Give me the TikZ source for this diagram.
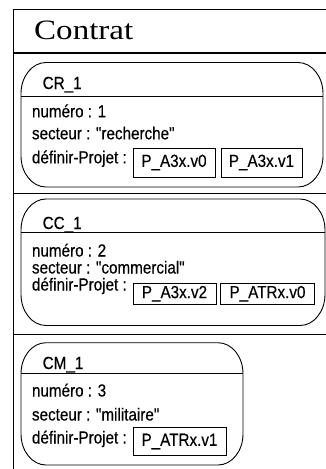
\documentclass[tikz,border=0pt]{standalone}
\usepackage{fontspec}
\newfontfamily\uifont[FakeStretch=0.87,FakeBold=0.4]{Liberation Sans}
\newfontfamily\titlefont[FakeStretch=1.18]{Liberation Serif}
\newcommand\objbox[4]{%
  \draw[objline] (#1+25,#2) -- (#3-25,#2)
    .. controls (#3-11.2,#2) and (#3,#2+13.9) .. (#3,#2+31)
    -- (#3,#4-31)
    .. controls (#3,#4-13.9) and (#3-11.2,#4) .. (#3-25,#4)
    -- (#1+25,#4)
    .. controls (#1+11.2,#4) and (#1,#4-13.9) .. (#1,#4-31)
    -- (#1,#2+31)
    .. controls (#1,#2+13.9) and (#1+11.2,#2) .. cycle;}
\tikzset{
  objline/.style={draw=black, line width=0.9pt},
  frameline/.style={draw=black, line width=1pt},
  headline/.style={draw=black, line width=1.6pt},
  txt/.style={anchor=base west, inner sep=0pt, font=\uifont\fontsize{17.5}{19}\selectfont},
  lbl/.style={txt},
  pbox/.style={draw=black, line width=0.9pt, inner sep=0pt, font=\uifont\fontsize{17.5}{19}\selectfont},
}
\begin{document}
\begin{tikzpicture}[x=1pt,y=-1pt]
\useasboundingbox (0,0) rectangle (326,469);
% outer frame
\draw[frameline] (326,9) -- (13,9) -- (13,469);
\draw[headline] (13,53) -- (326,53);
\draw[frameline] (13,193) -- (326,193);
\draw[frameline] (13,334) -- (326,334);
\node[anchor=base west, inner sep=0pt, font=\titlefont\fontsize{28}{30}\selectfont] (title) at (34,39) {Contrat};

% CR_1
\objbox{21}{62.5}{323}{187}
\draw[objline] (21,96.5) -- (323,96.5);
\node[lbl] (cr) at (42.5,89) {CR\_1};
\node[txt] (cr1) at (31.8,117.3) {numéro : 1};
\node[txt] (cr2) at (31.8,139.3) {secteur : "recherche"};
\node[txt] (cr3) at (31.8,163.3) {définir-Projet :};
\node[pbox, minimum width=82pt, minimum height=29pt] (crv0) at (174,162.5) {P\_A3x.v0};
\node[pbox, minimum width=81pt, minimum height=29pt] (crv1) at (261.5,162.5) {P\_A3x.v1};

% CC_1
\objbox{21}{199}{325}{325.5}
\draw[objline] (21,232.7) -- (325,232.7);
\node[lbl] (cc) at (42.5,229) {CC\_1};
\node[txt] (cc1) at (31.8,256.5) {numéro : 2};
\node[txt] (cc2) at (31.8,273.5) {secteur : "commercial"};
\node[txt] (cc3) at (31.8,290.5) {définir-Projet :};
\node[pbox, minimum width=83pt, minimum height=20.5pt] (ccv2) at (174.5,293.75) {P\_A3x.v2};
\node[pbox, minimum width=94pt, minimum height=20.5pt] (ccv0) at (267.5,293.75) {P\_ATRx.v0};

% CM_1
\objbox{21}{342.7}{243}{465}
\draw[objline] (21,373) -- (243,373);
\node[lbl] (cm) at (42.5,369) {CM\_1};
\node[txt] (cm1) at (31.8,396.5) {numéro : 3};
\node[txt] (cm2) at (31.8,420.5) {secteur : "militaire"};
\node[txt] (cm3) at (31.8,443.5) {définir-Projet :};
\node[pbox, minimum width=93pt, minimum height=28.5pt] (cmv1) at (179.5,441.5) {P\_ATRx.v1};
\end{tikzpicture}
\end{document}
